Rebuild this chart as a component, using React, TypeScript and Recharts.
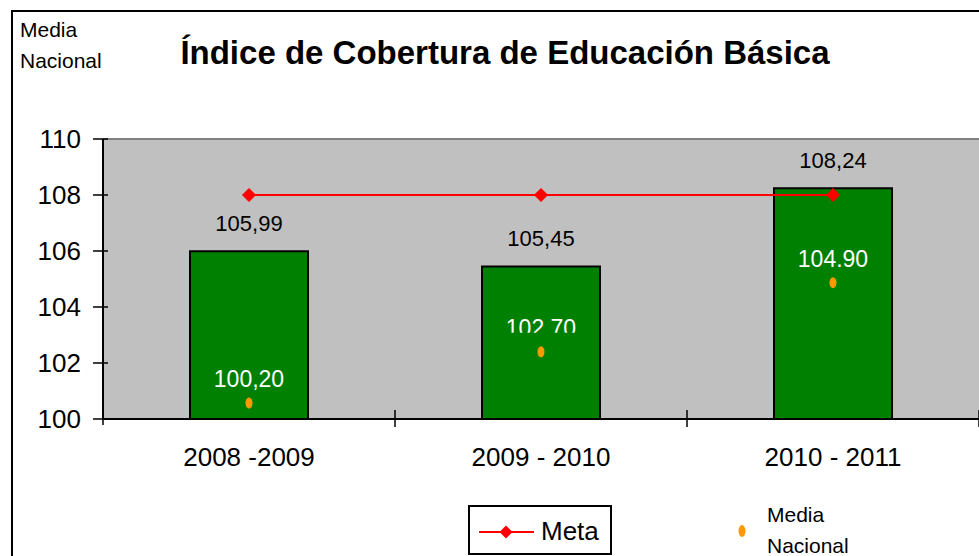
import React from 'react';
import { ComposedChart, Bar, Line, XAxis, YAxis, CartesianGrid, LabelList, ReferenceLine } from 'recharts';

const categories = ['2008 -2009', '2009 - 2010', '2010 - 2011'];
const cobertura = [105.99, 105.45, 108.24];
const coberturaLabels = ['105,99', '105,45', '108,24'];
const meta = [108, 108, 108];
const mediaNacional = [100.57, 102.4, 104.87];
const mediaLabels = ['100,20', '102.70', '104.90'];
const mediaLabelClipped = [false, true, false];
const yTicks = [100, 102, 104, 106, 108, 110];
const seriesNames = ['Meta', 'Media Nacional'];
const title = 'Índice de Cobertura de Educación Básica';

const data = categories.map((c, i) => ({
  cat: c,
  cobertura: cobertura[i],
  meta: meta[i],
  media: mediaNacional[i],
}));

const FONT = '"Liberation Sans", Arial, sans-serif';
const GREEN = '#008000';
const RED = '#FF0000';
const ORANGE = '#FF9900';

const XTick = (props: any) => {
  const { x, y, payload, index } = props;
  const off = payload && payload.offset ? payload.offset : 146;
  return (
    <g>
      {index === 0 && <line x1={x - off} x2={x - off} y1={y} y2={y + 6} stroke="#000" strokeWidth={1.5} />}
      <line x1={x + off} x2={x + off} y1={y - 9} y2={y + 8} stroke="#000" strokeWidth={1.5} />
      <text x={x} y={y + 47} textAnchor="middle" fontSize={26} fontFamily={FONT} fill="#000">
        {payload.value}
      </text>
    </g>
  );
};

const YTick = (props: any) => {
  const { x, y, payload } = props;
  return (
    <g>
      <line x1={x - 10} x2={x + 5} y1={y} y2={y} stroke="#000" strokeWidth={1.5} />
      <text x={x - 22} y={y} dy="0.35em" textAnchor="end" fontSize={26} fontFamily={FONT} fill="#000">
        {payload.value}
      </text>
    </g>
  );
};

const BarLabel = (props: any) => {
  const { x, y, width, index } = props;
  return (
    <text x={x + width / 2} y={y - 28} dy="0.35em" textAnchor="middle" fontSize={22} fontFamily={FONT} fill="#000">
      {coberturaLabels[index]}
    </text>
  );
};

const MediaLabel = (props: any) => {
  const { x, y, index } = props;
  const id = `clip-media-${index}`;
  const clipped = mediaLabelClipped[index];
  return (
    <g>
      {clipped && (
        <defs>
          <clipPath id={id}>
            <rect x={x - 80} y={y - 60} width={160} height={41} />
          </clipPath>
        </defs>
      )}
      <text
        x={x}
        y={y - 24}
        dy="0.35em"
        textAnchor="middle"
        fontSize={23}
        fontFamily={FONT}
        fill="#FFFFFF"
        clipPath={clipped ? `url(#${id})` : undefined}
      >
        {mediaLabels[index]}
      </text>
    </g>
  );
};

const Diamond = (props: any) => {
  const { cx, cy, index } = props;
  const s = 6.5;
  return (
    <polygon
      key={`d-${index}`}
      points={`${cx},${cy - s} ${cx + s},${cy} ${cx},${cy + s} ${cx - s},${cy}`}
      fill={RED}
      stroke={RED}
    />
  );
};

const OrangeDot = (props: any) => {
  const { cx, cy, index } = props;
  return <ellipse key={`o-${index}`} cx={cx} cy={cy} rx={3.5} ry={5.5} fill={ORANGE} />;
};

export default function App() {
  return (
    <div style={{ position: 'fixed', left: 0, top: 0, width: 979, height: 556, overflow: 'hidden', background: '#fff' }}>
      <div
        style={{
          position: 'absolute',
          left: 11,
          top: 10,
          width: 1100,
          height: 700,
          border: '2px solid #000',
        }}
      />
      <div style={{ position: 'absolute', left: 0, top: 0 }}>
        <ComposedChart
          width={979}
          height={556}
          data={data}
          margin={{ top: 139, right: 0, bottom: 77, left: 0 }}
        >
          <CartesianGrid fill="#C0C0C0" horizontal={false} vertical={false} />
          <ReferenceLine y={110} stroke="#808080" strokeWidth={2} />
          <XAxis
            dataKey="cat"
            height={60}
            tickSize={0}
            tickMargin={0}
            tickLine={false}
            axisLine={{ stroke: '#000', strokeWidth: 2 }}
            tick={XTick}
            interval={0}
          />
          <YAxis
            width={103}
            domain={[100, 110]}
            ticks={yTicks}
            tickSize={0}
            tickMargin={0}
            tickLine={false}
            axisLine={{ stroke: '#000', strokeWidth: 2 }}
            tick={YTick}
            allowDataOverflow
          />
          <Bar dataKey="cobertura" fill={GREEN} stroke="#000" strokeWidth={2} barSize={118} isAnimationActive={false}>
            <LabelList dataKey="cobertura" content={BarLabel} />
          </Bar>
          <Line
            dataKey="meta"
            name={seriesNames[0]}
            stroke={RED}
            strokeWidth={2}
            dot={Diamond}
            activeDot={false}
            isAnimationActive={false}
          />
          <Line
            dataKey="media"
            name={seriesNames[1]}
            stroke="none"
            dot={OrangeDot}
            activeDot={false}
            isAnimationActive={false}
          >
            <LabelList dataKey="media" content={MediaLabel} />
          </Line>
        </ComposedChart>
      </div>
      <svg
        width={979}
        height={556}
        style={{ position: 'absolute', left: 0, top: 0, pointerEvents: 'none' }}
      >
        <text x={20} y={37} fontSize={21} fontFamily={FONT} fill="#000">Media</text>
        <text x={20} y={68} fontSize={21} fontFamily={FONT} fill="#000">Nacional</text>
        <text x={505} y={64} textAnchor="middle" fontSize={33} fontWeight="bold" fontFamily={FONT} fill="#000">
          {title}
        </text>
        <rect x={469} y={506} width={142} height={48} fill="#fff" stroke="#000" strokeWidth={2} />
        <line x1={479} x2={534} y1={532} y2={532} stroke={RED} strokeWidth={2} />
        <polygon points="506,525.5 512.5,532 506,538.5 499.5,532" fill={RED} />
        <text x={541} y={540} fontSize={26} fontFamily={FONT} fill="#000">{seriesNames[0]}</text>
        <ellipse cx={742} cy={531} rx={3.5} ry={6} fill={ORANGE} />
        <text x={767} y={522} fontSize={21} fontFamily={FONT} fill="#000">Media</text>
        <text x={767} y={553} fontSize={21} fontFamily={FONT} fill="#000">Nacional</text>
      </svg>
    </div>
  );
}
